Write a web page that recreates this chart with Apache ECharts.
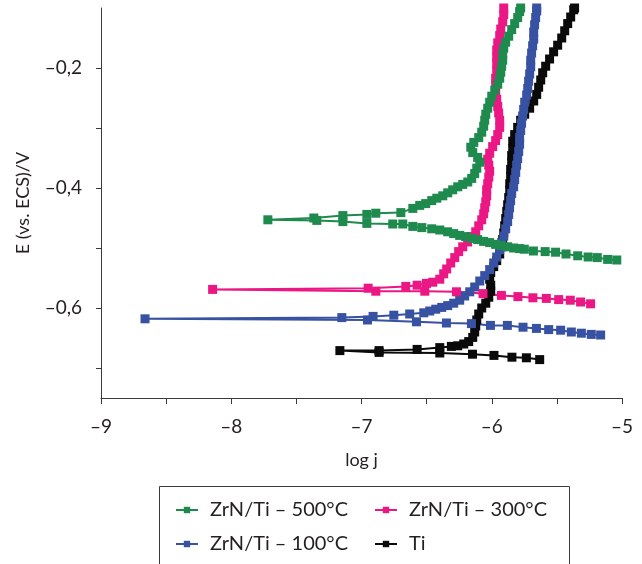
<!DOCTYPE html>
<html>
<head>
<meta charset="utf-8">
<script src="https://cdn.jsdelivr.net/npm/echarts@6/dist/echarts.min.js"></script>
<style>html,body{margin:0;padding:0;background:#fff;}#c{width:642px;height:564px;}</style>
</head>
<body>
<div id="c"></div>
<script>
// ---- data (log j, E vs ECS in V), cathodic branch then anodic branch ----
const seriesNames = ['ZrN/Ti – 500°C', 'ZrN/Ti – 300°C', 'ZrN/Ti – 100°C', 'Ti'];

const zr500LogJ = [-5.04,-5.11,-5.19,-5.26,-5.34,-5.43,-5.51,-5.59,-5.68,-5.75,-5.786,-5.832,-5.878,-5.924,-5.970,-6.016,-6.062,-6.108,-6.154,-6.200,-6.246,-6.292,-6.338,-6.399,-6.461,-6.537,-6.606,-6.683,-6.760,-6.959,-7.143,-7.343,-7.719,
  -7.366,-7.143,-6.959,-6.890,-6.698,-6.606,-6.553,-6.507,-6.461,-6.422,-6.376,-6.338,-6.300,-6.261,-6.223,-6.184,-6.154,-6.131,-6.115,-6.092,-6.108,-6.146,-6.161,-6.138,-6.100,-6.077,-6.062,-6.054,-6.046,-6.031,-6.016,-6.000,-5.977,-5.954,-5.939,-5.931,-5.924,-5.916,-5.916,-5.908,-5.893,-5.870,-5.847,-5.824,-5.801,-5.786,-5.778];
const zr500E = [-0.520,-0.519,-0.516,-0.515,-0.513,-0.510,-0.507,-0.506,-0.505,-0.502,-0.501,-0.500,-0.498,-0.496,-0.494,-0.491,-0.489,-0.486,-0.484,-0.481,-0.479,-0.476,-0.473,-0.470,-0.468,-0.466,-0.464,-0.460,-0.460,-0.459,-0.456,-0.454,-0.453,
  -0.450,-0.446,-0.444,-0.442,-0.441,-0.434,-0.429,-0.426,-0.421,-0.417,-0.413,-0.408,-0.403,-0.398,-0.394,-0.390,-0.384,-0.376,-0.367,-0.357,-0.349,-0.341,-0.332,-0.324,-0.316,-0.307,-0.297,-0.287,-0.277,-0.267,-0.257,-0.247,-0.237,-0.227,-0.217,-0.207,-0.197,-0.187,-0.177,-0.167,-0.157,-0.147,-0.136,-0.126,-0.116,-0.106,-0.100];

const zr300LogJ = [-5.241,-5.318,-5.397,-5.486,-5.581,-5.684,-5.799,-5.926,-6.067,-6.271,-6.514,-6.890,-8.143,
  -6.949,-6.660,-6.573,-6.501,-6.453,-6.399,-6.369,-6.346,-6.315,-6.284,-6.254,-6.223,-6.185,-6.154,-6.123,-6.100,-6.077,-6.062,-6.054,-6.046,-6.039,-6.039,-6.031,-6.023,-6.016,-6.023,-6.031,-6.016,-5.993,-5.970,-5.954,-5.939,-5.939,-5.947,-5.954,-5.962,-5.970,-5.970,-5.970,-5.962,-5.962,-5.962,-5.962,-5.954,-5.939,-5.931,-5.916,-5.908,-5.908];
const zr300E = [-0.593,-0.590,-0.587,-0.586,-0.584,-0.583,-0.581,-0.579,-0.576,-0.573,-0.572,-0.572,-0.569,
  -0.567,-0.564,-0.562,-0.559,-0.557,-0.552,-0.543,-0.535,-0.525,-0.516,-0.506,-0.498,-0.490,-0.481,-0.473,-0.463,-0.453,-0.443,-0.433,-0.423,-0.413,-0.403,-0.393,-0.382,-0.372,-0.362,-0.352,-0.342,-0.331,-0.321,-0.311,-0.299,-0.287,-0.275,-0.264,-0.252,-0.240,-0.229,-0.217,-0.205,-0.193,-0.182,-0.170,-0.158,-0.146,-0.135,-0.123,-0.111,-0.100];

const zr100LogJ = [-5.164,-5.236,-5.312,-5.389,-5.471,-5.563,-5.657,-5.760,-5.880,-6.010,-6.156,-6.348,-6.578,-6.954,-8.662,
  -7.151,-6.911,-6.752,-6.630,-6.522,-6.476,-6.430,-6.384,-6.338,-6.292,-6.246,-6.208,-6.169,-6.131,-6.092,-6.054,-6.016,-5.985,-5.962,-5.939,-5.924,-5.908,-5.893,-5.878,-5.870,-5.863,-5.855,-5.847,-5.832,-5.824,-5.816,-5.809,-5.801,-5.793,-5.786,-5.786,-5.778,-5.771,-5.763,-5.755,-5.747,-5.732,-5.724,-5.717,-5.709,-5.701,-5.701,-5.694,-5.686,-5.678,-5.678,-5.671,-5.663,-5.655,-5.655];
const zr100E = [-0.645,-0.644,-0.642,-0.640,-0.637,-0.636,-0.634,-0.632,-0.629,-0.629,-0.626,-0.625,-0.623,-0.620,-0.618,
  -0.616,-0.614,-0.612,-0.610,-0.608,-0.605,-0.602,-0.599,-0.596,-0.592,-0.587,-0.580,-0.573,-0.565,-0.555,-0.546,-0.536,-0.525,-0.515,-0.503,-0.491,-0.480,-0.468,-0.456,-0.444,-0.433,-0.421,-0.409,-0.398,-0.386,-0.374,-0.362,-0.351,-0.339,-0.327,-0.316,-0.304,-0.292,-0.280,-0.269,-0.257,-0.245,-0.234,-0.222,-0.210,-0.198,-0.187,-0.175,-0.163,-0.152,-0.140,-0.128,-0.116,-0.105,-0.100];

const tiLogJ = [-5.632,-5.734,-5.845,-5.983,-6.148,-6.399,-6.865,-7.166,
  -6.865,-6.573,-6.399,-6.310,-6.261,-6.215,-6.177,-6.146,-6.131,-6.123,-6.115,-6.100,-6.077,-6.046,-6.023,-6.008,-6.008,-6.016,-6.008,-5.985,-5.962,-5.939,-5.924,-5.916,-5.908,-5.901,-5.893,-5.885,-5.878,-5.870,-5.862,-5.862,-5.855,-5.855,-5.847,-5.847,-5.839,-5.839,-5.824,-5.801,-5.778,-5.747,-5.709,-5.678,-5.655,-5.640,-5.624,-5.609,-5.586,-5.556,-5.525,-5.494,-5.463,-5.440,-5.417,-5.394,-5.371,-5.364];
const tiE = [-0.686,-0.683,-0.682,-0.679,-0.677,-0.675,-0.674,-0.671,
  -0.671,-0.669,-0.666,-0.664,-0.663,-0.660,-0.656,-0.649,-0.640,-0.630,-0.620,-0.610,-0.600,-0.592,-0.582,-0.572,-0.562,-0.552,-0.541,-0.531,-0.521,-0.510,-0.498,-0.486,-0.475,-0.463,-0.451,-0.439,-0.428,-0.416,-0.404,-0.393,-0.381,-0.369,-0.357,-0.346,-0.334,-0.322,-0.311,-0.299,-0.287,-0.277,-0.267,-0.255,-0.244,-0.232,-0.220,-0.208,-0.197,-0.185,-0.173,-0.162,-0.150,-0.138,-0.126,-0.115,-0.103,-0.100];

// ---- axis ticks & labels ----
const xTickValues = [-9,-8.5,-8,-7.5,-7,-6.5,-6,-5.5,-5];
const xLabelValues = [-9,-8,-7,-6,-5];
const xTickLabels = ['–9','–8','–7','–6','–5'];
const yTickValues = [-0.7,-0.6,-0.5,-0.4,-0.3,-0.2];
const yLabelValues = [-0.6,-0.4,-0.2];
const yTickLabels = ['–0,6','–0,4','–0,2'];

const colors = {'ZrN/Ti – 500°C':'#1f8a4e','ZrN/Ti – 300°C':'#ea1784','ZrN/Ti – 100°C':'#3752a2','Ti':'#0a0a0a'};
const FONT = 'Lato';
const TXT = '#231f20';

function pairs(a, b){ const n = Math.min(a.length, b.length); const out=[]; for(let i=0;i<n;i++) out.push([a[i], b[i]]); return out; }
function lbl(values, labels){ return v => { for (let i=0;i<values.length;i++) if (Math.abs(values[i]-v)<1e-6) return labels[i]; return ''; }; }

const dataByName = {
  'ZrN/Ti – 500°C': pairs(zr500LogJ, zr500E),
  'ZrN/Ti – 300°C': pairs(zr300LogJ, zr300E),
  'ZrN/Ti – 100°C': pairs(zr100LogJ, zr100E),
  'Ti': pairs(tiLogJ, tiE)
};
// drawing order: Ti at bottom, 500°C on top
const drawOrder = ['Ti', 'ZrN/Ti – 100°C', 'ZrN/Ti – 300°C', 'ZrN/Ti – 500°C'];

const series = drawOrder.map(name => ({
  name, type: 'line', data: dataByName[name],
  symbol: 'rect', symbolSize: 9, showAllSymbol: true,
  itemStyle: {color: colors[name]},
  lineStyle: {color: colors[name], width: 2},
  clip: true, animation: false
}));

const legendPos = [
  {name: seriesNames[0], left: 175, top: 499},
  {name: seriesNames[1], left: 374, top: 499},
  {name: seriesNames[2], left: 175, top: 533},
  {name: seriesNames[3], left: 374, top: 533}
];
const legends = legendPos.map(p => ({
  data: [p.name], left: p.left, top: p.top, padding: 0,
  itemWidth: 22, itemHeight: 8, selectedMode: false,
  textStyle: {fontFamily: FONT, fontSize: 20, color: TXT, lineHeight: 22, padding: [0,0,0,7]}
}));

const chart = echarts.init(document.getElementById('c'), null, {renderer: 'canvas'});
chart.setOption({
  animation: false,
  backgroundColor: '#fff',
  grid: {left: 101, right: 20, top: 8, bottom: 166, containLabel: false},
  xAxis: {
    type: 'value', min: -9, max: -5, interval: 0.5,
    name: 'log j', nameLocation: 'middle', nameGap: 53,
    nameTextStyle: {fontFamily: FONT, fontSize: 18, color: TXT},
    axisLine: {show: true, onZero: false, lineStyle: {color: '#3a3a3a', width: 1}},
    axisTick: {show: true, length: 6, inside: false, customValues: xTickValues, lineStyle: {color: '#3a3a3a'}},
    axisLabel: {customValues: xLabelValues, formatter: lbl(xLabelValues, xTickLabels), margin: 19, fontFamily: FONT, fontSize: 19, color: TXT},
    splitLine: {show: false}
  },
  yAxis: {
    type: 'value', min: -0.75, max: -0.1,
    name: 'E (vs. ECS)/V', nameLocation: 'middle', nameGap: 69, nameRotate: 90,
    nameTextStyle: {fontFamily: FONT, fontSize: 18, color: TXT},
    axisLine: {show: true, onZero: false, lineStyle: {color: '#3a3a3a', width: 1}},
    axisTick: {show: true, length: 5, inside: false, customValues: yTickValues, lineStyle: {color: '#3a3a3a'}},
    axisLabel: {customValues: yLabelValues, formatter: lbl(yLabelValues, yTickLabels), margin: 19, fontFamily: FONT, fontSize: 19, color: TXT},
    splitLine: {show: false}
  },
  legend: legends,
  graphic: [{
    type: 'rect', left: 157, top: 484, z: -1, silent: true,
    shape: {x: 0, y: 0, width: 410, height: 110},
    style: {fill: 'none', stroke: '#3a3a3a', lineWidth: 1}
  }],
  series
});
</script>
</body>
</html>
